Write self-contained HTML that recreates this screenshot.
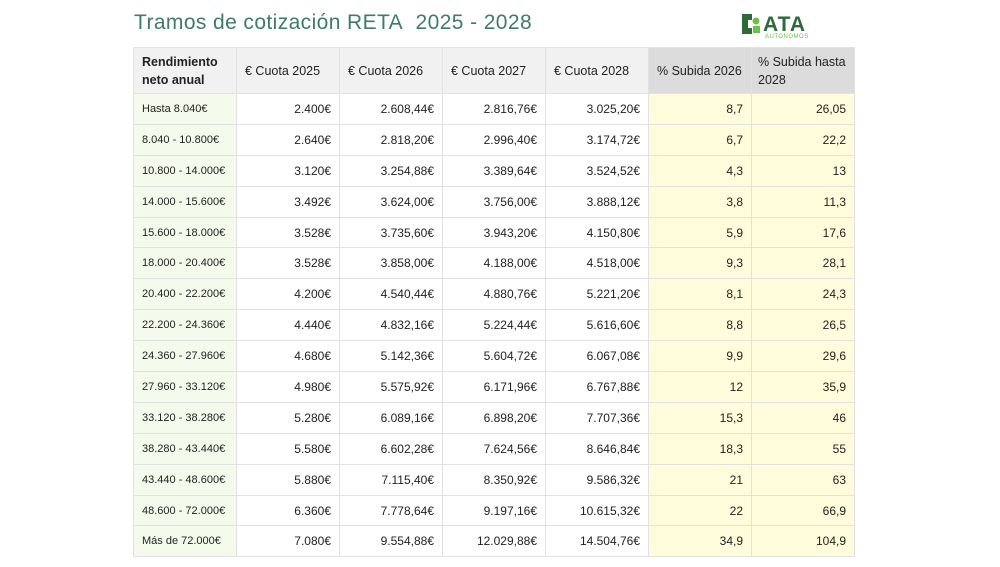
<!DOCTYPE html><html><head><meta charset="utf-8"><style>
body{margin:0;width:1000px;height:567px;background:#fff;font-family:"Liberation Sans",sans-serif;position:relative;overflow:hidden}
.t{position:absolute;left:134px;top:11px;font-size:21px;color:#3f7b6c;letter-spacing:0.4px;font-family:"Liberation Sans",sans-serif}
table{position:absolute;left:133px;top:47px;border-collapse:collapse;font-size:12px;color:#222;table-layout:fixed}
td{border:1px solid #e2e2e2;height:29.9px;padding:0 8px;text-align:right;width:86px}
td:first-child{text-align:left;background:#f5fbec;font-size:11px}
td:nth-child(6),td:nth-child(7){background:#fefcda}
tr.h td{height:45px;text-align:left;background:#f1f1f1;font-size:12.5px;vertical-align:middle;line-height:18px}
tr.h td:nth-child(7){padding-right:2px;padding-left:6px}
tr.h td:first-child{font-weight:bold;background:#f1f1f1}
tr.h td:nth-child(6),tr.h td:nth-child(7){background:#dcdcdc}
</style></head><body>
<div class="t">Tramos de cotización RETA&nbsp; 2025 - 2028</div>
<svg style="position:absolute;left:740px;top:11px" width="90" height="28">
<path d="M2 3h10v6h-4v8h4v6H2z" fill="#2f6a3a"/><circle cx="16" cy="10" r="3.5" fill="#6cc04a"/><rect x="13" y="15" width="7" height="7" fill="#6cc04a"/>
<text x="23" y="20" font-family="Liberation Sans" font-weight="bold" font-size="21" fill="#2f6a3a" letter-spacing="1">ATA</text>
<text x="25" y="27" font-family="Liberation Sans" font-size="6" fill="#6cc04a" letter-spacing="0.5">AUTONOMOS</text></svg>
<table>
<tr class="h"><td>Rendimiento<br>neto anual</td><td>€ Cuota 2025</td><td>€ Cuota 2026</td><td>€ Cuota 2027</td><td>€ Cuota 2028</td><td>% Subida 2026</td><td><span style="white-space:nowrap">% Subida hasta</span><br>2028</td></tr>
<tr><td>Hasta 8.040€</td><td>2.400€</td><td>2.608,44€</td><td>2.816,76€</td><td>3.025,20€</td><td>8,7</td><td>26,05</td></tr>
<tr><td>8.040 - 10.800€</td><td>2.640€</td><td>2.818,20€</td><td>2.996,40€</td><td>3.174,72€</td><td>6,7</td><td>22,2</td></tr>
<tr><td>10.800 - 14.000€</td><td>3.120€</td><td>3.254,88€</td><td>3.389,64€</td><td>3.524,52€</td><td>4,3</td><td>13</td></tr>
<tr><td>14.000 - 15.600€</td><td>3.492€</td><td>3.624,00€</td><td>3.756,00€</td><td>3.888,12€</td><td>3,8</td><td>11,3</td></tr>
<tr><td>15.600 - 18.000€</td><td>3.528€</td><td>3.735,60€</td><td>3.943,20€</td><td>4.150,80€</td><td>5,9</td><td>17,6</td></tr>
<tr><td>18.000 - 20.400€</td><td>3.528€</td><td>3.858,00€</td><td>4.188,00€</td><td>4.518,00€</td><td>9,3</td><td>28,1</td></tr>
<tr><td>20.400 - 22.200€</td><td>4.200€</td><td>4.540,44€</td><td>4.880,76€</td><td>5.221,20€</td><td>8,1</td><td>24,3</td></tr>
<tr><td>22.200 - 24.360€</td><td>4.440€</td><td>4.832,16€</td><td>5.224,44€</td><td>5.616,60€</td><td>8,8</td><td>26,5</td></tr>
<tr><td>24.360 - 27.960€</td><td>4.680€</td><td>5.142,36€</td><td>5.604,72€</td><td>6.067,08€</td><td>9,9</td><td>29,6</td></tr>
<tr><td>27.960 - 33.120€</td><td>4.980€</td><td>5.575,92€</td><td>6.171,96€</td><td>6.767,88€</td><td>12</td><td>35,9</td></tr>
<tr><td>33.120 - 38.280€</td><td>5.280€</td><td>6.089,16€</td><td>6.898,20€</td><td>7.707,36€</td><td>15,3</td><td>46</td></tr>
<tr><td>38.280 - 43.440€</td><td>5.580€</td><td>6.602,28€</td><td>7.624,56€</td><td>8.646,84€</td><td>18,3</td><td>55</td></tr>
<tr><td>43.440 - 48.600€</td><td>5.880€</td><td>7.115,40€</td><td>8.350,92€</td><td>9.586,32€</td><td>21</td><td>63</td></tr>
<tr><td>48.600 - 72.000€</td><td>6.360€</td><td>7.778,64€</td><td>9.197,16€</td><td>10.615,32€</td><td>22</td><td>66,9</td></tr>
<tr><td>Más de 72.000€</td><td>7.080€</td><td>9.554,88€</td><td>12.029,88€</td><td>14.504,76€</td><td>34,9</td><td>104,9</td></tr>
</table></body></html>
